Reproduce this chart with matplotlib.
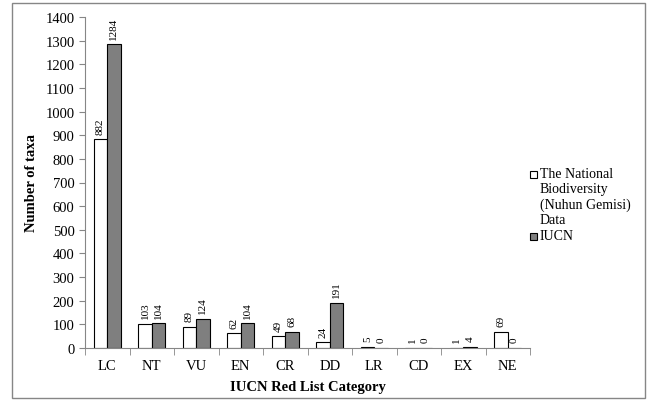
import numpy as np
import matplotlib
matplotlib.use("Agg")
import matplotlib.pyplot as plt
from matplotlib.patches import Rectangle

categories = ["LC", "NT", "VU", "EN", "CR", "DD", "LR", "CD", "EX", "NE"]
national = [882, 103, 89, 62, 49, 24, 5, 1, 1, 69]
iucn = [1284, 104, 124, 104, 68, 191, 0, 0, 4, 0]

plt.rcParams['font.family'] = ['Liberation Serif', 'DejaVu Serif']

fig = plt.figure(figsize=(6.48, 4.06), dpi=100)
ax = fig.add_axes([85 / 648, 57 / 406, 445 / 648, 331 / 406])

x = np.arange(len(categories))
w = 0.3
b1 = ax.bar(x - w / 2, national, w, color="white", edgecolor="black", linewidth=0.8)
b2 = ax.bar(x + w / 2, iucn, w, color="#7f7f7f", edgecolor="black", linewidth=0.8)

for bars, vals in ((b1, national), (b2, iucn)):
    for r, v in zip(bars, vals):
        ax.annotate(str(v), (r.get_x() + r.get_width() / 2, v), xytext=(0, 4),
                    textcoords="offset points", rotation=90, ha="center", va="bottom",
                    fontsize=8)

ax.set_xlim(-0.5, len(categories) - 0.5)
ax.set_ylim(0, 1400)
ax.set_yticks(np.arange(0, 1401, 100))
ax.set_xticks(x)
ax.set_xticklabels(categories)
ax.set_xticks(np.arange(-0.5, len(categories)), minor=True)
ax.tick_params(axis="x", which="major", length=0, labelsize=10.5, pad=8)
ax.tick_params(axis="x", which="minor", length=5, color="#868686")
ax.tick_params(axis="y", length=4, color="#868686", labelsize=10.5)

for s in ["top", "right"]:
    ax.spines[s].set_visible(False)
for s in ["left", "bottom"]:
    ax.spines[s].set_color("#868686")

ax.set_ylabel("Number of taxa", fontsize=10.5, fontweight="bold", labelpad=5)
ax.set_xlabel("IUCN Red List Category", fontsize=10.5, fontweight="bold", labelpad=6)

# legend drawn by hand so the marker sits on the first line
fig.patches.append(Rectangle((530 / 648, 1 - 179 / 406), 7 / 648, 7 / 406,
                             transform=fig.transFigure, facecolor="white",
                             edgecolor="black", linewidth=0.8))
fig.text(540 / 648, 1 - 168 / 406, "The National\nBiodiversity\n(Nuhun Gemisi)\nData",
         fontsize=10, va="top", ha="left", linespacing=1.2,
         transform=fig.transFigure)
fig.patches.append(Rectangle((530 / 648, 1 - 241 / 406), 7 / 648, 7 / 406,
                             transform=fig.transFigure, facecolor="#7f7f7f",
                             edgecolor="black", linewidth=0.8))
fig.text(540 / 648, 1 - 230 / 406, "IUCN", fontsize=10, va="top", ha="left",
         transform=fig.transFigure)

fig.patches.append(Rectangle((12 / 648, 1 - 399 / 406), 633 / 648, 395 / 406,
                             transform=fig.transFigure, facecolor="none",
                             edgecolor="#868686", linewidth=1))

fig.savefig("out.png", dpi=100)
